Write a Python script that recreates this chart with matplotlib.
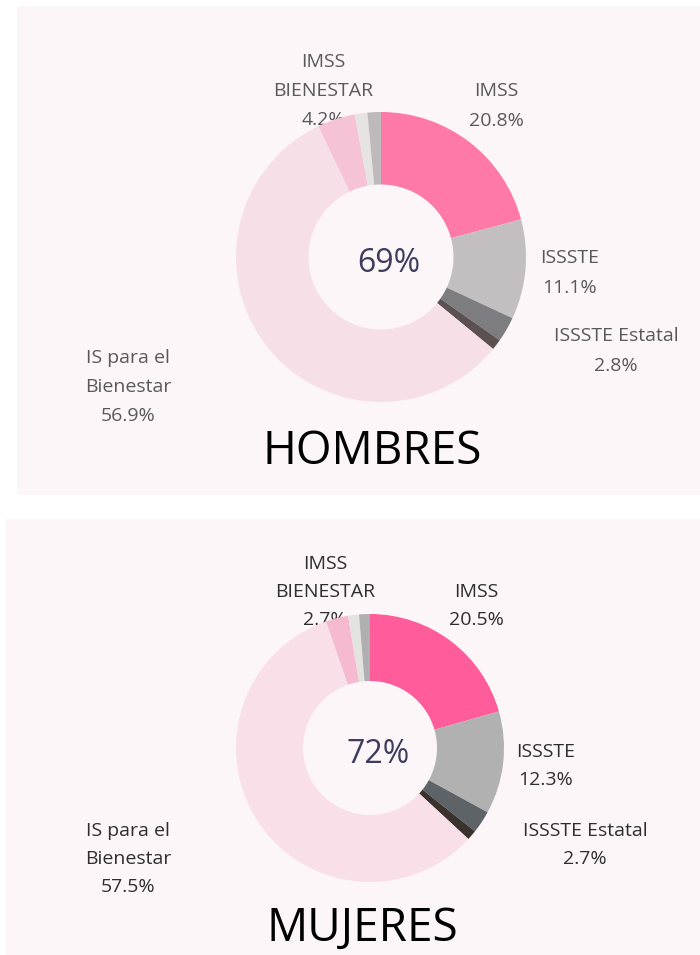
import matplotlib.pyplot as plt
from matplotlib.patches import Rectangle

plt.rcParams['font.family'] = ['Open Sans', 'DejaVu Sans']

# order: clockwise from 12 o'clock
categorias = ['IMSS', 'ISSSTE', 'ISSSTE Estatal', 'Otro', 'IS para el\nBienestar',
              'IMSS\nBIENESTAR', 'Otro 2', 'Otro 3']
hombres = [20.8, 11.1, 2.8, 1.2, 56.9, 4.2, 1.4, 1.5]
mujeres = [20.5, 12.3, 2.7, 1.2, 57.5, 2.7, 1.3, 1.3]
total_h = '69%'
total_m = '72%'

col_h = ['#FF79A8', '#C3BEC0', '#7D7C80', '#5B5150', '#F7DFE8', '#F5C2D6', '#E6E3E3', '#BEB9BB']
col_m = ['#FF5C9B', '#B1B1B1', '#5E6367', '#3A332D', '#F8DFE8', '#F5B9D0', '#E3E3E0', '#AFAFAF']

W, H = 700, 955
fig = plt.figure(figsize=(W / 100, H / 100), dpi=100)
fig.patch.set_facecolor('white')

# panel backgrounds (pixel boxes, y from top)
for x0, y0, x1, y1 in [(17, 6, 700, 495), (6, 519, 700, 955)]:
    fig.patches.append(Rectangle((x0 / W, 1 - y1 / H), (x1 - x0) / W, (y1 - y0) / H,
                                 transform=fig.transFigure, facecolor='#FDF6F8',
                                 edgecolor='none', zorder=-5))


def donut(vals, cols, cx, cy, r, centro, titulo, tcy, lab_pos, lab_col, lsp):
    ax = fig.add_axes([(cx - r) / W, 1 - (cy + r) / H, 2 * r / W, 2 * r / H])
    ax.pie(vals, colors=cols, startangle=90, counterclock=False, radius=1,
           wedgeprops=dict(width=0.5, linewidth=0))
    ax.set_xlim(-1, 1)
    ax.set_ylim(-1, 1)
    ax.set_aspect('equal')
    ax.axis('off')
    ax.set_zorder(1)
    fig.text(cx / W + 0.011, 1 - (cy + 6) / H, centro, ha='center', va='center',
             fontsize=23, color='#3E3B5E', zorder=5)
    fig.text(tcy[0] / W, 1 - tcy[1] / H, titulo, ha='center', va='center',
             fontsize=33, color='black', zorder=5)
    # labels sit under the ring, as in the original
    for i, (lx, ly) in lab_pos.items():
        txt = categorias[i] + '\n' + f'{vals[i]:.1f}%'
        fig.text(lx / W, 1 - ly / H, txt, ha='center', va='center', fontsize=14,
                 color=lab_col, linespacing=lsp, zorder=0.5)


lab_h = {0: (496, 106), 1: (570, 273), 2: (616, 351), 4: (128, 387), 5: (323, 91)}
lab_m = {0: (476, 606), 1: (546, 766), 2: (585, 845), 4: (128, 859), 5: (325, 592)}

donut(hombres, col_h, 381, 257, 145, total_h, 'HOMBRES', (372, 452), lab_h, '#595959', 1.8)
donut(mujeres, col_m, 370, 748, 134, total_m, 'MUJERES', (362, 929), lab_m, '#2E2E2E', 1.72)

fig.savefig('out.png', dpi=100, facecolor='white')
